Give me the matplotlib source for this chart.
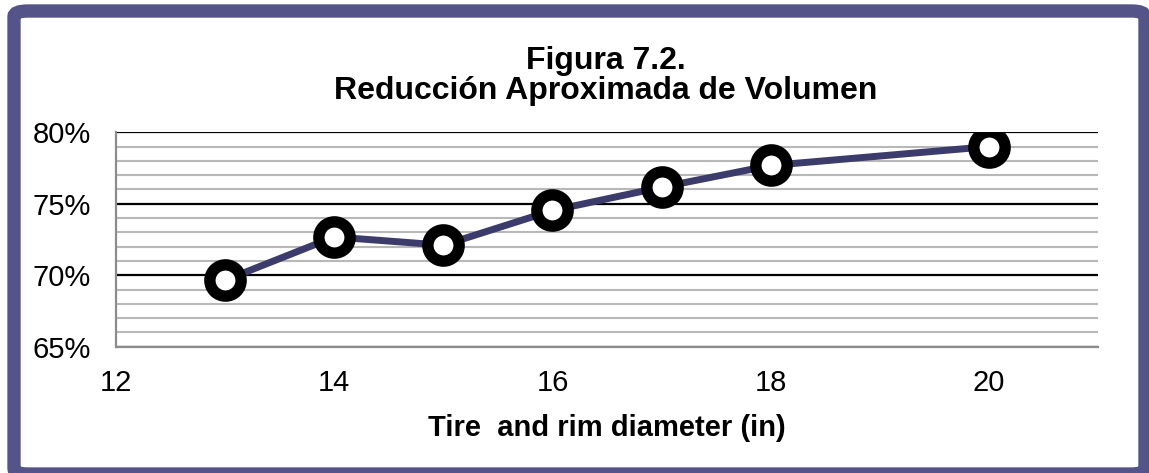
import matplotlib
matplotlib.use("Agg")
import matplotlib.pyplot as plt
from matplotlib.patches import FancyBboxPatch
from matplotlib.ticker import MultipleLocator, FuncFormatter

# data
diameters = [13, 14, 15, 16, 17, 18, 20]
reduction = [69.65, 72.68, 72.1, 74.53, 76.16, 77.68, 79.0]
x_ticks = [12, 14, 16, 18, 20]
y_ticks = [65, 70, 75, 80]

title = "Figura 7.2.\nReducción Aproximada de Volumen"
xlabel = "Tire  and rim diameter (in)"

plt.rcParams['font.family'] = ['Liberation Sans', 'DejaVu Sans']

W, H = 1149, 473
fig = plt.figure(figsize=(W / 100, H / 100), dpi=100, facecolor='white')

# purple frame around the whole chart (runs off the right/bottom edge)
frame = FancyBboxPatch((14 / W, -1 / H), 1131 / W, 463 / H,
                       boxstyle="round,pad=0,rounding_size=0.012",
                       transform=fig.transFigure, facecolor='none',
                       edgecolor='#545488', linewidth=9.6, zorder=-1)
fig.patches.append(frame)

ax = fig.add_axes([116 / W, 126.3 / H, (1098 - 116) / W, (346.7 - 132.3) / H])
ax.set_facecolor('none')

ax.plot(diameters, reduction, color='#3c3c6c', linewidth=5, zorder=3,
        marker='o', markersize=22.5, markerfacecolor='white',
        markeredgecolor='black', markeredgewidth=8.2, solid_capstyle='round')

ax.set_xlim(12, 21)
ax.set_ylim(65, 80)
ax.set_xticks(x_ticks)
ax.set_yticks(y_ticks)
ax.yaxis.set_minor_locator(MultipleLocator(1))
ax.yaxis.set_major_formatter(FuncFormatter(lambda v, p: f"{v:.0f}%"))

ax.grid(axis='y', which='minor', color='#b8b8b8', linewidth=1.5, zorder=1)
ax.grid(axis='y', which='major', color='black', linewidth=1.6, zorder=2)
ax.grid(axis='x', visible=False)

for s in ['top', 'right']:
    ax.spines[s].set_visible(False)
for s in ['left', 'bottom']:
    ax.spines[s].set_color('#8c8c8c')
    ax.spines[s].set_linewidth(1.6)

ax.tick_params(axis='both', which='both', length=0, labelsize=21)
ax.tick_params(axis='y', pad=18)
ax.tick_params(axis='x', pad=16)

ax.set_xlabel(xlabel, fontsize=21, fontweight='bold', labelpad=12)
fig.text(606 / W, 1 - 76 / H, title, ha='center', va='center',
         fontsize=23, fontweight='bold', linespacing=1.0)

fig.savefig("out.png", dpi=100)
